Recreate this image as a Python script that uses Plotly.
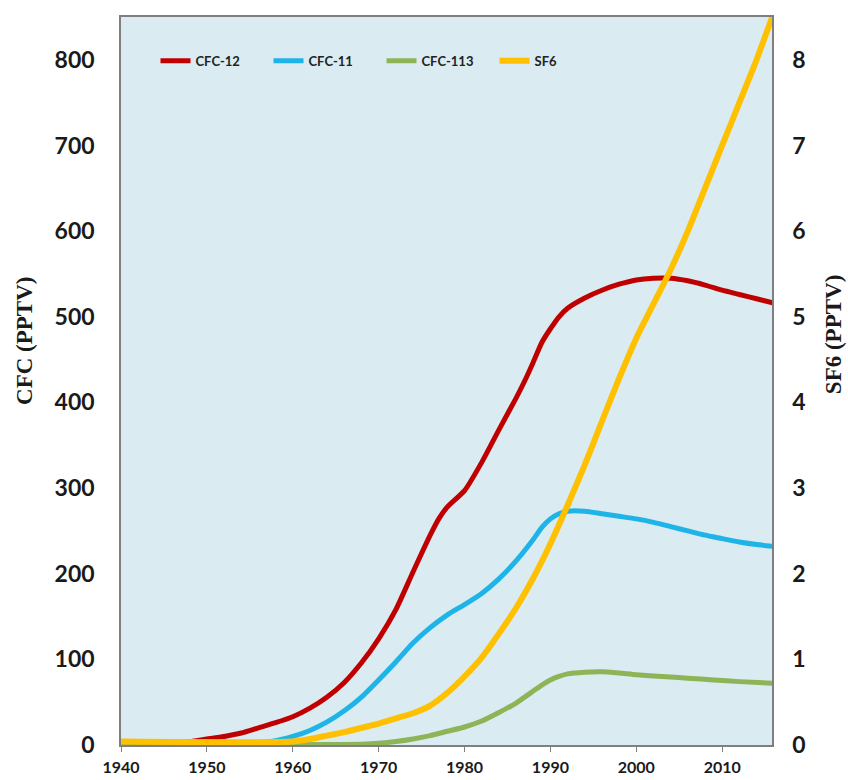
import plotly.graph_objects as go

# CFC-12 (pptv)
yr_cfc12 = [1940, 1945, 1948, 1950, 1952, 1954, 1956, 1958, 1960, 1962, 1964, 1966, 1968, 1970, 1972,
            1974, 1976, 1977, 1978, 1980, 1982, 1984, 1986, 1987, 1988, 1989, 1990, 1991, 1992, 1994,
            1996, 1998, 2000, 2002, 2004, 2006, 2008, 2010, 2012, 2014, 2016]
cfc12 = [2, 3, 4, 7, 10, 14, 20, 26, 33, 43, 56, 73, 96, 124, 158,
         202, 245, 264, 278, 297, 330, 368, 405, 425, 447, 470, 486, 500, 510, 522,
         531, 538, 543, 545, 545, 542, 537, 531, 526, 521, 516]

# CFC-11 (pptv)
yr_cfc11 = [1940, 1955, 1958, 1960, 1962, 1964, 1966, 1968, 1970, 1972, 1974, 1976, 1978, 1980,
            1982, 1984, 1986, 1988, 1989, 1990, 1991, 1992, 1994, 1996, 1998, 2000, 2002, 2004, 2006,
            2008, 2010, 2012, 2014, 2016]
cfc11 = [1, 2, 5, 10, 17, 27, 40, 56, 76, 97, 119, 137, 152, 164,
         177, 194, 215, 240, 254, 264, 270, 273, 273, 270, 267, 264, 260, 255, 250,
         245, 241, 237, 234, 232]

# CFC-113 (pptv)
yr_cfc113 = [1940, 1965, 1968, 1970, 1972, 1974, 1976, 1978, 1980, 1982, 1984, 1986, 1988, 1989,
             1990, 1991, 1992, 1994, 1996, 1998, 2000, 2003, 2006, 2009, 2012, 2016]
cfc113 = [0, 0.5, 1, 2, 4, 7, 11, 16, 21, 28, 38, 49, 63, 70,
          76, 80, 83, 85, 85.5, 84, 82, 80, 78, 76, 74, 72]

# SF6 (pptv, right axis)
yr_sf6 = [1940, 1960, 1962, 1964, 1966, 1968, 1970, 1972, 1974, 1976, 1978, 1980, 1982, 1984,
          1986, 1988, 1990, 1992, 1994, 1996, 1998, 2000, 2002, 2004, 2006, 2008, 2010, 2012, 2014, 2016]
sf6 = [0.04, 0.04, 0.07, 0.11, 0.15, 0.2, 0.25, 0.31, 0.37, 0.46, 0.61, 0.8, 1.02, 1.3,
       1.6, 1.95, 2.35, 2.8, 3.27, 3.78, 4.28, 4.75, 5.15, 5.55, 6.0, 6.5, 7.0, 7.5, 8.0, 8.55]

x_ticks = [1940, 1950, 1960, 1970, 1980, 1990, 2000, 2010]
y_left_ticks = [0, 100, 200, 300, 400, 500, 600, 700, 800]
y_right_ticks = [0, 1, 2, 3, 4, 5, 6, 7, 8]

fig = go.Figure()
fig.add_trace(go.Scatter(x=yr_cfc12, y=cfc12, mode="lines", name="CFC-12",
                         line=dict(color="#C00000", width=5, shape="spline", smoothing=0.6)))
fig.add_trace(go.Scatter(x=yr_cfc11, y=cfc11, mode="lines", name="CFC-11",
                         line=dict(color="#1EB4E8", width=5, shape="spline", smoothing=0.6)))
fig.add_trace(go.Scatter(x=yr_cfc113, y=cfc113, mode="lines", name="CFC-113",
                         line=dict(color="#8DB456", width=5, shape="spline", smoothing=0.6)))
fig.add_trace(go.Scatter(x=yr_sf6, y=sf6, mode="lines", name="SF6", yaxis="y2",
                         line=dict(color="#FFC000", width=6, shape="spline", smoothing=0.6)))

tickfont = dict(family="Lato, Open Sans, sans-serif", size=23, color="#1a1a1a", weight="bold")
titlefont = dict(family="Liberation Serif, DejaVu Serif, serif", size=23, color="#1a1a1a", weight="bold")

fig.update_layout(
    width=848, height=780,
    margin=dict(l=121, r=76, t=17, b=35, autoexpand=False),
    paper_bgcolor="white",
    plot_bgcolor="#DAEBF1",
    showlegend=True,
    legend=dict(orientation="h", x=0.053, y=0.94, xanchor="left", yanchor="middle",
                bgcolor="rgba(0,0,0,0)", entrywidth=68, entrywidthmode="pixels",
                font=dict(family="Lato, Open Sans, sans-serif", size=13, color="#222", weight="bold")),
    xaxis=dict(range=[1940, 2015.8], tickvals=x_ticks, ticktext=[str(v) for v in x_ticks],
               showgrid=False, zeroline=False, showline=True, linecolor="#7f7f7f", linewidth=1.5,
               mirror=True, ticks="outside", ticklen=5, tickcolor="#7f7f7f", automargin=False,
               ticklabelstandoff=2,
               tickfont=dict(family="Lato, sans-serif", size=16, color="#1a1a1a", weight="bold")),
    yaxis=dict(range=[0, 850], tickvals=y_left_ticks, showgrid=False, zeroline=False,
               showline=True, linecolor="#7f7f7f", linewidth=1.5, mirror=True, ticks="",
               ticklabelstandoff=20, automargin=False, tickfont=tickfont),
    yaxis2=dict(range=[0, 8.5], tickvals=y_right_ticks, overlaying="y", side="right",
                showgrid=False, zeroline=False, showline=True, linecolor="#7f7f7f", linewidth=1.5,
                ticks="", ticklabelstandoff=14, tickfont=tickfont, automargin=False),
    annotations=[
        dict(text="CFC (PPTV)", xref="paper", yref="paper", x=0, y=0.555, xshift=-96,
             xanchor="center", yanchor="middle", textangle=-90, showarrow=False, font=titlefont),
        dict(text="SF6 (PPTV)", xref="paper", yref="paper", x=1, y=0.563, xshift=61,
             xanchor="center", yanchor="middle", textangle=-90, showarrow=False, font=titlefont),
    ],
)

fig.write_html("out.html", config={"displayModeBar": False},
               post_script="document.body.style.margin='0';")
